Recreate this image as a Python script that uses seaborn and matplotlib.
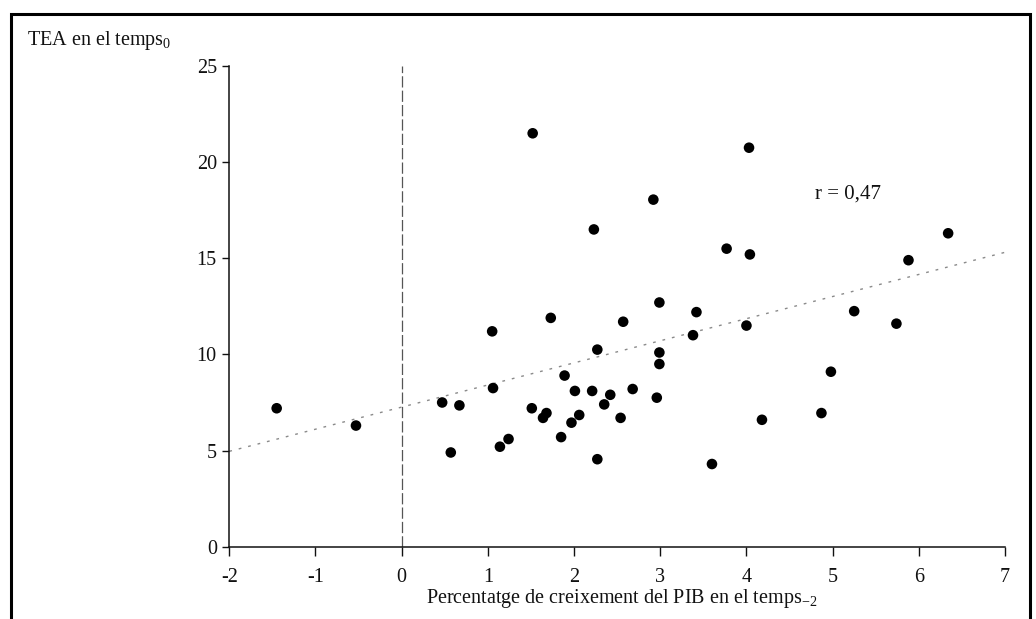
import matplotlib
matplotlib.use("Agg")
import matplotlib.pyplot as plt
import seaborn as sns
import pandas as pd
from matplotlib.patches import Rectangle

# ---- data ----
gdp_growth = [-1.45, -0.53, 0.47, 0.57, 0.67, 1.05, 1.06, 1.14, 1.24, 1.52,
              1.51, 1.68, 1.64, 1.73, 1.85, 1.89, 1.97, 2.01, 2.06, 2.23,
              2.21, 2.27, 2.27, 2.35, 2.42, 2.57, 2.54, 2.68, 2.92, 2.99,
              2.99, 2.99, 2.96, 3.38, 3.42, 3.60, 3.77, 4.03, 4.04, 4.00,
              4.18, 4.87, 4.98, 5.25, 5.74, 5.88, 6.34]
tea = [7.2, 6.3, 7.5, 4.9, 7.35, 11.2, 8.25, 5.2, 5.6, 21.5,
       7.2, 6.95, 6.7, 11.9, 5.7, 8.9, 6.45, 8.1, 6.85, 16.5,
       8.1, 10.25, 4.55, 7.4, 7.9, 11.7, 6.7, 8.2, 18.05, 12.7,
       10.1, 9.5, 7.75, 11.0, 12.2, 4.3, 15.5, 20.75, 15.2, 11.5,
       6.6, 6.95, 9.1, 12.25, 11.6, 14.9, 16.3]
fit_x = [-2.0, 7.0]
fit_y = [4.96, 15.31]
x_ticks = [-2, -1, 0, 1, 2, 3, 4, 5, 6, 7]
y_ticks = [0, 5, 10, 15, 20, 25]
r_label = "r = 0,47"
x_label = "Percentatge de creixement del PIB en el temps$_{-2}$"
y_label = "TEA en el temps$_0$"

df = pd.DataFrame({"x": gdp_growth, "y": tea})
fit_df = pd.DataFrame({"x": fit_x, "y": fit_y})

sns.set_theme(style="white")
plt.rcParams["font.family"] = ["Liberation Serif", "DejaVu Serif"]
plt.rcParams["mathtext.fontset"] = "custom"
plt.rcParams["mathtext.rm"] = "Liberation Serif"
plt.rcParams["mathtext.it"] = "Liberation Serif:italic"

fig = plt.figure(figsize=(10.36, 6.19), dpi=100)
ax = fig.add_axes([0.2213, 0.1168, 0.9701 - 0.2213, 0.8934 - 0.1168])

# vertical dashed reference line at x = 0
ax.plot([0, 0], [0, 25], color="#555555", lw=0.9, linestyle=(0, (9, 2.5)), zorder=1)
# regression line
sns.lineplot(data=fit_df, x="x", y="y", ax=ax, color="#8a8a8a", lw=1.0,
             linestyle=(0, (2, 5)), zorder=1)
# points
sns.scatterplot(data=df, x="x", y="y", ax=ax, color="black", s=58,
                edgecolor="none", zorder=3)

ax.set_xlim(-2, 7)
ax.set_ylim(0, 25)
ax.set_xticks(x_ticks)
ax.set_yticks(y_ticks)
ax.set_xticklabels([str(v) for v in x_ticks])
ax.set_yticklabels([str(v) for v in y_ticks])
ax.set_xlabel("")
ax.set_ylabel("")

for side in ["top", "right"]:
    ax.spines[side].set_visible(False)
for side in ["left", "bottom"]:
    ax.spines[side].set_color("#111111")
    ax.spines[side].set_linewidth(1.1)

ax.tick_params(axis="x", direction="out", length=6.5, width=1.0, pad=9,
               labelsize=14.5, colors="#111111", bottom=True)
ax.tick_params(axis="y", direction="out", length=5, width=1.0, pad=4,
               labelsize=14.5, colors="#111111", left=True)
ax.patch.set_alpha(0)

ax.text(5.18, 18.35, r_label, ha="center", va="center", fontsize=15, color="#111111")

fig.text(0.6, 1 - 598 / 619, x_label, ha="center", va="center",
         fontsize=14.5, color="#111111")
fig.text(27 / 1036, 1 - 40 / 619, y_label, ha="left", va="center",
         fontsize=14.5, color="#111111")

# scanned page frame
fig.patches.append(Rectangle((11 / 1036, -0.05), (1030 - 11) / 1036, 1.05 - 14 / 619,
                             transform=fig.transFigure, fill=False,
                             edgecolor="black", lw=2.2))

fig.savefig("out.png", dpi=100, facecolor="white")
